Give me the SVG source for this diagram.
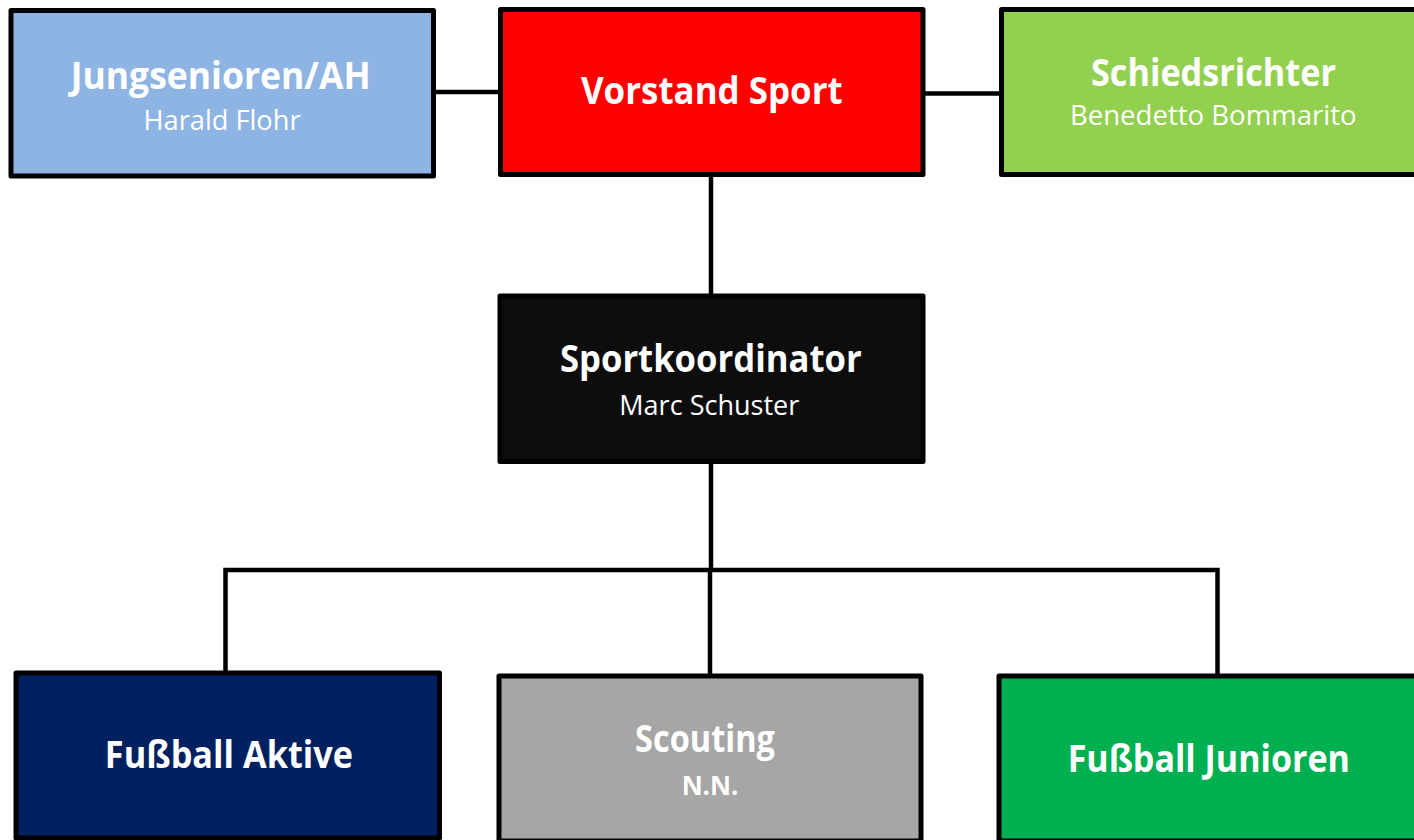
<svg xmlns="http://www.w3.org/2000/svg" width="1414" height="840" viewBox="0 0 1414 840">
<style>
.box{stroke:#000;stroke-width:5;stroke-linejoin:round}
.t{font-family:"Open Sans","Noto Sans","Liberation Sans",sans-serif;font-weight:700;font-size:37px;fill:#fff;text-anchor:middle}
.s{font-family:"Open Sans","Noto Sans","Liberation Sans",sans-serif;font-weight:400;font-size:28px;fill:#fff;text-anchor:middle}
.nn{font-family:"Open Sans","Noto Sans","Liberation Sans",sans-serif;font-weight:700;font-size:27px;fill:#fff;text-anchor:middle}
.c{fill:none;stroke:#000;stroke-width:4.5}
</style>
<rect width="1414" height="840" fill="#fff"/>
<g id="connectors">
<path class="c" d="M433.5 92 H500.5"/>
<path class="c" d="M923 93.5 H1001.5"/>
<path class="c" d="M711 174.5 V296"/>
<path class="c" d="M711 461 V570"/>
<path class="c" d="M225.5 673 V570 H1217.5 V676"/>
<path class="c" d="M710 570 V676"/>
</g>
<g id="jungsenioren">
<rect class="box" x="11" y="10.5" width="422.5" height="165.5" fill="#8EB4E3"/>
<text class="t" x="220.7" y="89.3" textLength="300" lengthAdjust="spacingAndGlyphs">Jungsenioren/AH</text>
<text class="s" x="222" y="130" textLength="157" lengthAdjust="spacingAndGlyphs">Harald Flohr</text>
</g>
<g id="vorstand">
<rect class="box" x="500.5" y="9.5" width="422.5" height="165" fill="#FF0000"/>
<text class="t" x="711.8" y="104.3" textLength="261.7" lengthAdjust="spacingAndGlyphs">Vorstand Sport</text>
</g>
<g id="schiedsrichter">
<rect class="box" x="1001.5" y="9.5" width="422.5" height="165" fill="#92D050"/>
<text class="t" x="1213.5" y="86" textLength="245" lengthAdjust="spacingAndGlyphs">Schiedsrichter</text>
<text class="s" x="1213.3" y="125" textLength="286.7" lengthAdjust="spacingAndGlyphs">Benedetto Bommarito</text>
</g>
<g id="sportkoordinator">
<rect class="box" x="500" y="296" width="423" height="165.5" fill="#0D0D0D"/>
<text class="t" x="710.8" y="372.3" textLength="301.7" lengthAdjust="spacingAndGlyphs">Sportkoordinator</text>
<text class="s" x="709.3" y="415" textLength="180" lengthAdjust="spacingAndGlyphs">Marc Schuster</text>
</g>
<g id="fussball-aktive">
<rect class="box" x="16" y="673" width="423.5" height="165" fill="#002060"/>
<text class="t" x="229" y="767.7" textLength="248.3" lengthAdjust="spacingAndGlyphs">Fußball Aktive</text>
</g>
<g id="scouting">
<rect class="box" x="499" y="676" width="422" height="165" fill="#A6A6A6"/>
<text class="t" x="705" y="751.7" textLength="140" lengthAdjust="spacingAndGlyphs">Scouting</text>
<text class="nn" x="710" y="795" textLength="56.7" lengthAdjust="spacingAndGlyphs">N.N.</text>
</g>
<g id="fussball-junioren">
<rect class="box" x="999" y="676" width="423" height="165" fill="#00B050"/>
<text class="t" x="1208.8" y="771.7" textLength="282.3" lengthAdjust="spacingAndGlyphs">Fußball Junioren</text>
</g>
</svg>
